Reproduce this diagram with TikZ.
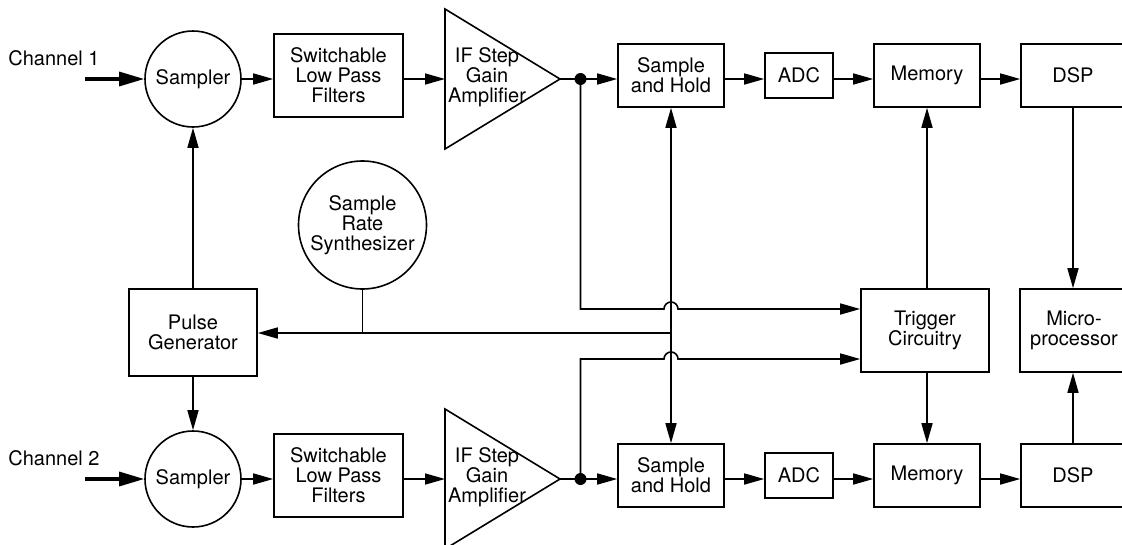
\documentclass[tikz,border=0pt]{standalone}
\usepackage{fontspec}
\setmainfont{TeX Gyre Heros}
\usetikzlibrary{arrows.meta,calc}
\begin{document}
\begin{tikzpicture}[x=1pt,y=-1pt,
  line width=1.6pt,
  lbl/.style={font=\fontsize{20}{20}\selectfont, align=center, inner sep=0pt},
  blk/.style={lbl, draw, rectangle},
  circ/.style={lbl, draw, circle},
  arr/.style={-{Triangle[length=20pt,width=11pt]}},
  arrboth/.style={{Triangle[length=20pt,width=11pt]}-{Triangle[length=20pt,width=11pt]}},
  bigarr/.style={line width=3.2pt, -{Triangle[length=25pt,width=14pt]}},
  dotnode/.style={circle, fill, inner sep=0pt, minimum size=12pt}
]
\useasboundingbox (0,0) rectangle (1122,544);
\clip (0,0) rectangle (1122,544);

\foreach \r/\o in {1/0,2/400}{
  \node[lbl] (ch\r) at (54,58+\o) {Channel \r};
  \coordinate (in\r) at (85,79+\o);
  \node[circ, minimum size=96pt] (samp\r) at (193,79+\o) {Sampler};
  \node[blk, minimum width=129pt, minimum height=83pt] (filt\r) at (338.5,75.5+\o) {Switchable\\Low Pass\\Filters};
  \coordinate (ampA\r) at (445,9+\o);
  \coordinate (ampB\r) at (445,149+\o);
  \coordinate (ampT\r) at (560,79+\o);
  \draw (ampA\r) -- (ampT\r) -- (ampB\r) -- cycle;
  \node[lbl] (amp\r) at (487,77+\o) {IF Step\\Gain\\Amplifier};
  \node[dotnode] (dot\r) at (580.5,79+\o) {};
  \node[blk, minimum width=106pt, minimum height=63pt] (sh\r) at (671,75.5+\o) {Sample\\and Hold};
  \node[blk, minimum width=68pt, minimum height=45pt] (adc\r) at (799,75.5+\o) {ADC};
  \node[blk, minimum width=106pt, minimum height=63pt] (mem\r) at (927,75.5+\o) {Memory};
  \node[blk, minimum width=104pt, minimum height=63pt] (dsp\r) at (1073,75.5+\o) {DSP};
  \draw[bigarr] (in\r) -- (samp\r.west);
  \draw[arr] (samp\r.east) -- (samp\r.east -| filt\r.west);
  \draw[arr] (filt\r.east |- ampT\r) -- (ampT\r -| ampA\r);
  \draw (ampT\r) -- (dot\r.center);
  \draw[arr] (dot\r.center) -- (dot\r.center -| sh\r.west);
  \draw[arr] (sh\r.east |- dot\r.center) -- (adc\r.west |- dot\r.center);
  \draw[arr] (adc\r.east |- dot\r.center) -- (mem\r.west |- dot\r.center);
  \draw[arr] (mem\r.east |- dot\r.center) -- (dsp\r.west |- dot\r.center);
}

\node[circ, minimum size=128pt] (synth) at (362.5,225) {Sample\\Rate\\Synthesizer};
\node[blk, minimum width=128pt, minimum height=87pt] (pulse) at (193,332.5) {Pulse\\Generator};
\node[blk, minimum width=128pt, minimum height=83pt] (trig) at (925,330.5) {Trigger\\Circuitry};
\node[blk, minimum width=108pt, minimum height=83pt] (micro) at (1074,330.5) {Micro-\\processor};

\draw[arr] (pulse.north) -- (samp1.south);
\draw[arr] (pulse.south) -- (samp2.north);

\coordinate (bus) at (671,333);
\draw[arr] (bus) -- (bus -| pulse.east);
\draw (synth.south) -- (synth.south |- bus);
\draw[arrboth] (sh1.south) -- (sh2.north);

\draw[arr] (mem1.south |- trig.north) -- (mem1.south);
\draw[arr] (mem1.south |- trig.south) -- (mem2.north);
\draw[arr] (dsp1.south) -- (dsp1.south |- micro.north);
\draw[arr] (dsp2.north) -- (dsp2.north |- micro.south);

\coordinate (t1) at (580.5,309);
\coordinate (t2) at (580.5,359);
\draw[arr] (dot1.center) -- (dot1.center |- t1) -- ($(sh1.south |- t1)+(-7,0)$)
  arc[start angle=180, end angle=0, radius=7pt] -- (trig.west |- t1);
\draw[arr] (dot2.center) -- (dot2.center |- t2) -- ($(sh1.south |- t2)+(-7,0)$)
  arc[start angle=180, end angle=0, radius=7pt] -- (trig.west |- t2);
\end{tikzpicture}
\end{document}
